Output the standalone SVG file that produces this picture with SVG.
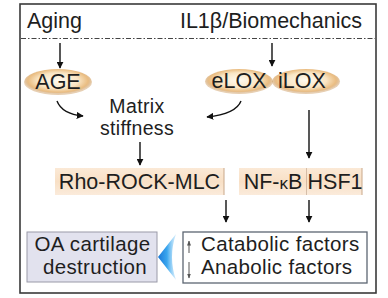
<svg xmlns="http://www.w3.org/2000/svg" width="388" height="298" viewBox="0 0 388 298">
<defs>
<style>
text{font-family:"Liberation Sans",Arial,sans-serif;font-size:21.5px;fill:#1e1e1e}
.c{text-anchor:middle}
.m{font-size:20.5px;letter-spacing:0.35px}
.ln{stroke:#111;stroke-width:1.4;fill:none}
.thin{stroke:#555;stroke-width:1;fill:none}
.ell{fill:url(#eg)}
.pk{fill:url(#pg)}
</style>
<radialGradient id="eg" cx="50%" cy="45%" r="50%">
<stop offset="0" stop-color="#fffaf0"/>
<stop offset="0.6" stop-color="#f9e5c4"/>
<stop offset="0.88" stop-color="#eabd82"/>
<stop offset="1" stop-color="#c99455" stop-opacity="0.45"/>
</radialGradient>
<linearGradient id="pg" x1="0" y1="0" x2="0" y2="1">
<stop offset="0" stop-color="#fbe9d6"/>
<stop offset="0.5" stop-color="#f8e0c6"/>
<stop offset="1" stop-color="#fbebdb"/>
</linearGradient>
<linearGradient id="bg" x1="0" y1="0" x2="1" y2="0">
<stop offset="0" stop-color="#1a78d8"/>
<stop offset="0.5" stop-color="#3aa6ee"/>
<stop offset="1" stop-color="#bfe4fb" stop-opacity="0.6"/>
</linearGradient>
<marker id="ah" viewBox="0 0 10 10" refX="9" refY="5" markerWidth="7" markerHeight="7" markerUnits="userSpaceOnUse" orient="auto">
<path d="M0,0 L10,5 L0,10 z" fill="#111"/>
</marker>
<marker id="sh" viewBox="0 0 10 10" refX="9" refY="5" markerWidth="5" markerHeight="5" markerUnits="userSpaceOnUse" orient="auto">
<path d="M0,1 L10,5 L0,9 z" fill="#555"/>
</marker>
</defs>
<rect x="0" y="0" width="388" height="298" fill="#fff"/>
<g id="frame">
<rect x="20" y="4" width="356" height="289" fill="none" stroke="#3a3a3a" stroke-width="1.6"/>
<line x1="21" y1="38.5" x2="375" y2="38.5" stroke="#444" stroke-width="1.2" stroke-dasharray="5 2 1.5 2"/>
</g>
<g id="aging"><text x="27" y="28">Aging</text></g>
<g id="il1b"><text x="362" y="28" style="text-anchor:end">IL1β/Biomechanics</text></g>
<g id="age">
<ellipse class="ell" cx="58" cy="82" rx="34" ry="13"/>
<text class="c" x="58" y="89">AGE</text>
</g>
<g id="elox">
<ellipse class="ell" cx="239" cy="81.5" rx="34" ry="12.5"/>
<text class="c" x="239" y="88">eLOX</text>
</g>
<g id="ilox">
<ellipse class="ell" cx="306" cy="81.5" rx="34" ry="12.5"/>
<text class="c" x="302" y="88">iLOX</text>
</g>
<g id="matrix">
<text class="c" x="137" y="113" style="font-size:19.5px;letter-spacing:0.4px">Matrix</text>
<text class="c" x="137" y="135" style="font-size:19.5px;letter-spacing:0.3px">stiffness</text>
</g>
<g id="rho">
<rect class="pk" x="55" y="168" width="169" height="27"/>
<line x1="224" y1="168" x2="224" y2="195" stroke="#c9a88a" stroke-width="1"/>
<text class="c" x="139.5" y="189">Rho-ROCK-MLC</text>
</g>
<g id="nfkb">
<rect class="pk" x="239" y="168" width="68" height="27"/>
<line x1="307" y1="168" x2="307" y2="195" stroke="#b0927a" stroke-width="1"/>
<text class="c" x="273" y="189">NF-<tspan style="font-size:17px">κ</tspan>B</text>
</g>
<g id="hsf1">
<rect class="pk" x="307" y="168" width="55" height="27"/>
<line x1="362" y1="168" x2="362" y2="195" stroke="#c9a88a" stroke-width="1"/>
<text class="c" x="335" y="189">HSF1</text>
</g>
<g id="factors">
<rect x="183" y="232" width="184" height="51" fill="#fff" stroke="#5c6672" stroke-width="1.3"/>
<text class="m" x="201" y="251">Catabolic factors</text>
<text class="m" x="201" y="274">Anabolic factors</text>
<line class="thin" x1="189" y1="253" x2="189" y2="241" marker-end="url(#sh)"/>
<line class="thin" x1="189" y1="262" x2="189" y2="278" marker-end="url(#sh)"/>
</g>
<g id="oa">
<rect x="27" y="232" width="130" height="50" fill="#e2e2ee" stroke="#9a9aa8" stroke-width="1"/>
<text class="c m" x="92.5" y="251">OA cartilage</text>
<text class="c m" x="95" y="274">destruction</text>
</g>
<g id="connectors">
<line class="ln" x1="60" y1="43" x2="60" y2="68" marker-end="url(#ah)"/>
<line class="ln" x1="272" y1="43" x2="272" y2="66" marker-end="url(#ah)"/>
<path class="ln" d="M57,101 Q62,114 83,116" marker-end="url(#ah)"/>
<path class="ln" d="M241,101 Q236,114 207,117" marker-end="url(#ah)"/>
<line class="ln" x1="140" y1="142" x2="140" y2="165" marker-end="url(#ah)"/>
<line class="ln" x1="309" y1="110" x2="309" y2="158" marker-end="url(#ah)"/>
<line class="ln" x1="226" y1="200" x2="226" y2="222" marker-end="url(#ah)"/>
<line class="ln" x1="309" y1="200" x2="309" y2="222" marker-end="url(#ah)"/>
<path d="M158,257 L176,234 Q168,257 176,280 Z" fill="url(#bg)"/>
</g>
</svg>
